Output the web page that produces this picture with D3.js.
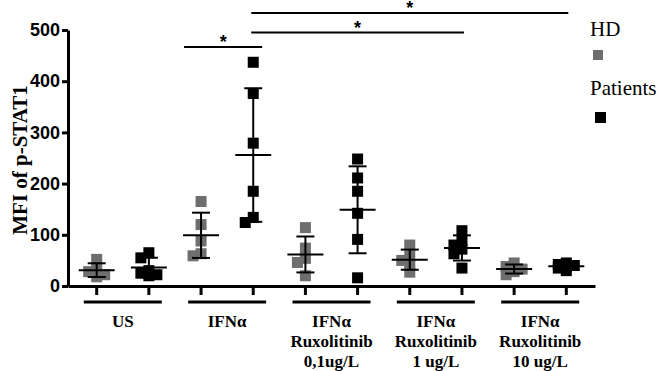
<!DOCTYPE html>
<html>
<head>
<meta charset="utf-8">
<script src="https://cdn.jsdelivr.net/npm/d3@7"></script>
<style>
  body { margin: 0; background: #fff; }
  svg { display: block; }
</style>
</head>
<body>
<div id="root"></div>
<script>
// conditions along the x axis, two columns (HD, Patients) each
const groupLabels = [
  ["US"],
  ["IFNα"],
  ["IFNα", "Ruxolitinib", "0,1ug/L"],
  ["IFNα", "Ruxolitinib", "1 ug/L"],
  ["IFNα", "Ruxolitinib", "10 ug/L"]
];
const seriesNames = ["HD", "Patients"];

// MFI values
const hdValues = [
  [52, 35, 28, 22, 18],
  [165, 120, 88, 63, 59],
  [114, 74, 54, 46, 20],
  [80, 58, 50, 42, 27],
  [45, 38, 33, 28, 22]
];
const patientValues = [
  [65, 55, 30, 25, 22, 20],
  [437, 376, 279, 185, 134, 124],
  [248, 211, 185, 142, 91, 16],
  [108, 88, 80, 72, 63, 35],
  [45, 42, 40, 38, 35, 30]
];

const yTicks = [0, 100, 200, 300, 400, 500];

// significance bars: [from column, to column, level in MFI units]
const comparisons = [
  [2, 3, 467],
  [3, 7, 495],
  [3, 9, 533]
];

function drawChart() {
  const width = 661;
  const height = 371;
  const left = 68, right = 595, top = 30, bottom = 286;

  const svg = d3.select("#root")
    .append("svg")
    .attr("width", width)
    .attr("height", height);

  const columns = [];
  groupLabels.forEach((g, i) => {
    columns.push({ key: "hd" + i, group: i, series: 0, values: hdValues[i] });
    columns.push({ key: "pt" + i, group: i, series: 1, values: patientValues[i] });
  });

  const x = d3.scaleBand()
    .domain(columns.map(c => c.key))
    .range([left, right])
    .paddingInner(0)
    .paddingOuter(0.05);
  const cx = key => x(key) + x.bandwidth() / 2;

  const y = d3.scaleLinear()
    .domain([0, 500])
    .range([bottom, top]);

  // y axis
  const yAxis = svg.append("g")
    .attr("transform", `translate(${left},0)`)
    .call(d3.axisLeft(y).tickValues(yTicks).tickSize(6).tickSizeOuter(0).tickPadding(2));
  yAxis.select(".domain").attr("stroke-width", 3);
  yAxis.selectAll(".tick line").attr("stroke-width", 3);
  yAxis.selectAll(".tick text")
    .attr("font-family", "Liberation Sans, Arial, sans-serif")
    .attr("font-weight", "bold")
    .attr("font-size", 18)
    .attr("fill", "#000");

  // x axis
  const xAxis = svg.append("g")
    .attr("transform", `translate(0,${bottom})`)
    .call(d3.axisBottom(x).tickSize(9).tickSizeOuter(0).tickFormat(""));
  xAxis.select(".domain").attr("stroke-width", 3);
  xAxis.selectAll(".tick line").attr("stroke-width", 3);

  // group underlines + labels
  groupLabels.forEach((lines, i) => {
    const gx = (cx("hd" + i) + cx("pt" + i)) / 2;
    svg.append("line")
      .attr("x1", gx - 39).attr("x2", gx + 39)
      .attr("y1", 302).attr("y2", 302)
      .attr("stroke", "#000").attr("stroke-width", 3);
    lines.forEach((t, j) => {
      svg.append("text")
        .attr("x", gx)
        .attr("y", 327 + j * 20)
        .attr("text-anchor", "middle")
        .attr("font-family", "Liberation Serif, Times New Roman, serif")
        .attr("font-weight", "bold")
        .attr("font-size", 17)
        .text(t);
    });
  });

  // y axis title
  svg.append("text")
    .attr("transform", "translate(27,160) rotate(-90)")
    .attr("text-anchor", "middle")
    .attr("font-family", "Liberation Serif, Times New Roman, serif")
    .attr("font-weight", "bold")
    .attr("font-size", 21)
    .text("MFI of p-STAT1");

  const colors = ["#6e6e6e", "#000"];
  const size = 11;
  const step = 8;

  // scatter points, nudged sideways where they would overlap
  columns.forEach(c => {
    const placed = [];
    const sorted = c.values.slice().sort((a, b) => b - a);
    sorted.forEach(v => {
      const py = y(v);
      const offsets = [0, -step, step];
      let best = 0, bestHits = Infinity;
      for (const o of offsets) {
        const hits = placed.filter(p => Math.abs(p.dx - o) < step && Math.abs(p.py - py) < 7).length;
        if (hits < bestHits) { best = o; bestHits = hits; }
        if (hits === 0) break;
      }
      placed.push({ dx: best, py, v });
    });
    svg.append("g").selectAll("rect")
      .data(placed)
      .enter()
      .append("rect")
      .attr("x", d => cx(c.key) + d.dx - size / 2)
      .attr("y", d => d.py - size / 2)
      .attr("width", size)
      .attr("height", size)
      .attr("fill", colors[c.series]);
  });

  // mean and SD bars
  columns.forEach(c => {
    const m = d3.mean(c.values);
    const sd = d3.deviation(c.values);
    const px = cx(c.key);
    const g = svg.append("g").attr("stroke", "#000").attr("stroke-width", 2);
    g.append("line").attr("x1", px).attr("x2", px).attr("y1", y(m + sd)).attr("y2", y(m - sd));
    g.append("line").attr("x1", px - 18).attr("x2", px + 18).attr("y1", y(m)).attr("y2", y(m));
    [m + sd, m - sd].forEach(v => {
      g.append("line").attr("x1", px - 9).attr("x2", px + 9).attr("y1", y(v)).attr("y2", y(v));
    });
  });

  // significance bars
  comparisons.forEach(([a, b, level]) => {
    const x1 = cx(columns[a].key) - (a === 2 ? 17 : 2);
    const x2 = cx(columns[b].key) + (a === 2 ? 9 : 2);
    const ly = y(level);
    svg.append("line")
      .attr("x1", x1).attr("x2", x2)
      .attr("y1", ly).attr("y2", ly)
      .attr("stroke", "#000").attr("stroke-width", 2);
    svg.append("text")
      .attr("x", (x1 + x2) / 2)
      .attr("y", ly + 1)
      .attr("text-anchor", "middle")
      .attr("font-family", "Liberation Sans, Arial, sans-serif")
      .attr("font-weight", "bold")
      .attr("font-size", 18)
      .text("*");
  });

  // legend
  const legend = svg.append("g")
    .attr("font-family", "Liberation Serif, Times New Roman, serif")
    .attr("font-size", 21);
  seriesNames.forEach((name, i) => {
    legend.append("text")
      .attr("x", 590)
      .attr("y", 36 + i * 59)
      .text(name);
    legend.append("rect")
      .attr("x", 593 + i * 2)
      .attr("y", 50 + i * 62)
      .attr("width", 10 + i)
      .attr("height", 10 + i)
      .attr("fill", colors[i]);
  });
}

drawChart();
</script>
</body>
</html>
